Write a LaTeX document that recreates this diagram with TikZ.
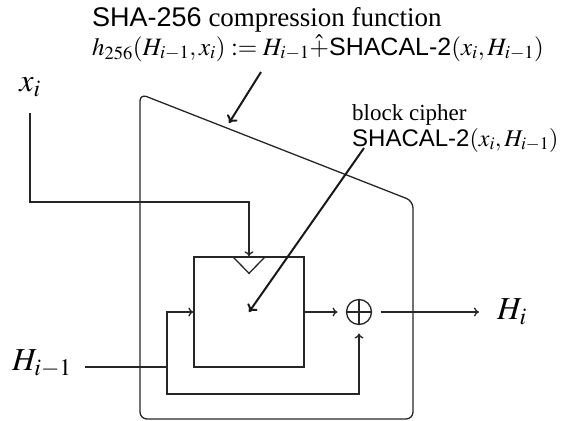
\documentclass[tikz,border=0pt]{standalone}
\usepackage{mathptmx}
\usepackage{fontspec}
\setmainfont{Liberation Serif}
\setsansfont{Liberation Sans}
\usetikzlibrary{arrows.meta}

\begin{document}
\begin{tikzpicture}[x=1pt,y=-1pt,
  wire/.style={line width=1.3pt, draw=black!85},
  flow/.style={wire, -{To[length=5pt,width=9pt]}},
  pointer/.style={line width=2pt, draw=black!90, -{To[length=7pt,width=12pt]}},
  lbl/.style={font=\fontsize{24}{26}\selectfont, inner sep=0pt, align=left},
  big/.style={font=\fontsize{32}{33}\selectfont, inner sep=0pt}]
\useasboundingbox (0,0) rectangle (566,421);
% outer frame
\draw[wire, rounded corners=7pt] (140,419) -- (140,94) -- (413,201) -- (413,419) -- cycle;
% block cipher and xor
\node[wire, draw, minimum size=110pt, inner sep=0pt] (cipher) at (249,312) {};
\draw[wire] ([xshift=-16.5pt]cipher.north) -- ([yshift=-17pt]cipher.north) -- ([xshift=16.5pt]cipher.north);
\node[wire, draw, circle, minimum size=25pt, inner sep=0pt, outer sep=9pt,
  path picture={\draw[wire] (path picture bounding box.north) -- (path picture bounding box.south)
    (path picture bounding box.west) -- (path picture bounding box.east);}] (xor) at (359,312) {};
% labels
\node[big] (xi) at (30,87) {$x_i$};
\node[big, anchor=east] (hprev) at (72,364) {$H_{i-1}$};
\node[big, anchor=west] (hout) at (497,312) {$H_i$};
\node[lbl, anchor=north west] (hlabel) at (92,7) {{\fontsize{27}{26}\selectfont\textsf{SHA-256} compression function}\\[3pt]
  {\fontsize{25}{26}\selectfont$h_{256}(H_{i-1},x_i)\mathrel{:=}H_{i-1}\hat{+}\textsf{SHACAL-2}(x_i,H_{i-1})$}};
\node[lbl, anchor=north west] (bclabel) at (352,104) {{\fontsize{23}{22}\selectfont block cipher}\\
  \textsf{SHACAL-2}$(x_i,H_{i-1})$};
% wires
\coordinate (xrow) at (30,202);
\coordinate (split) at (167,367);
\coordinate (loop) at (167,394);
\draw[flow, shorten <=16pt] (xi.south) -- (xrow) -| (cipher.north);
\draw[wire, shorten <=13pt] (hprev.east |- split) -- (split);
\draw[flow] (split) |- (cipher.west);
\draw[flow] (split) -- (loop) -| (xor.south);
\draw[flow] (cipher.east) -- (xor.west);
\draw[flow, shorten >=18pt] (xor.east) -- (hout.west);
% pointers
\coordinate (hfrom) at (261,72);
\coordinate (hto) at (229,123);
\coordinate (bcfrom) at (364,148);
\draw[pointer] (hfrom) -- (hto);
\draw[pointer] (bcfrom) -- (cipher.center);
\end{tikzpicture}
\end{document}
